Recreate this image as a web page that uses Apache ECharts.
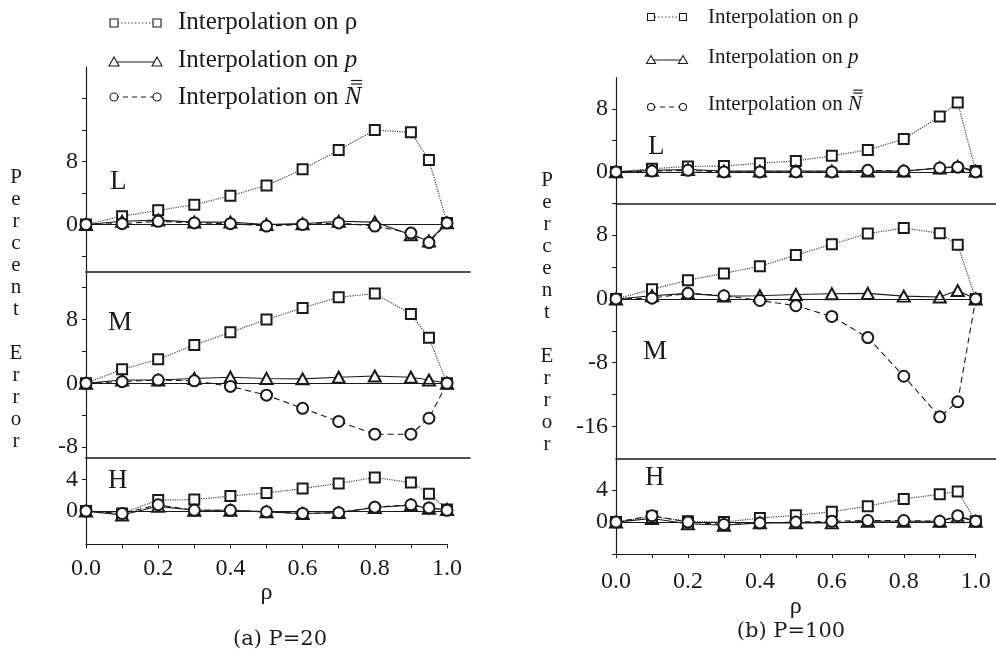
<!DOCTYPE html>
<html><head><meta charset="utf-8">
<script src="https://cdn.jsdelivr.net/npm/echarts@6/dist/echarts.min.js"></script>
<style>html,body{margin:0;padding:0;background:#fff}#c{width:996px;height:656px}</style>
</head><body><div id="c"></div>
<script>
// ---------- DATA ----------
const rho = [0, 0.1, 0.2, 0.3, 0.4, 0.5, 0.6, 0.7, 0.8, 0.9, 0.95, 1.0];
const seriesNames = ['Interpolation on ρ', 'Interpolation on p', 'Interpolation on N'];

// (a) P=20
const p20L_rho = [0, 1.05, 1.8, 2.5, 3.65, 4.95, 7.0, 9.45, 12.0, 11.7, 8.2, 0.2];
const p20L_p   = [0, 0.4, 0.55, 0.3, 0.3, 0.0, 0.1, 0.4, 0.3, -1.3, -2.1, 0.2];
const p20L_N   = [0, 0.1, 0.4, 0.2, 0.1, -0.2, 0.0, 0.2, -0.2, -1.1, -2.3, 0.2];
const p20M_rho = [0, 1.75, 3.0, 4.8, 6.4, 8.0, 9.45, 10.8, 11.25, 8.7, 5.7, 0];
const p20M_p   = [0, 0.4, 0.4, 0.6, 0.75, 0.6, 0.55, 0.75, 0.9, 0.75, 0.4, 0];
const p20M_N   = [0, 0.2, 0.4, 0.3, -0.4, -1.5, -3.15, -4.8, -6.4, -6.4, -4.4, 0];
const p20H_rho = [0, -0.3, 1.4, 1.45, 1.9, 2.3, 2.85, 3.5, 4.25, 3.6, 2.2, 0.2];
const p20H_p   = [0, -0.5, 0.6, 0.1, 0.1, -0.1, -0.3, -0.2, 0.45, 0.75, 0.35, 0.2];
const p20H_N   = [0, -0.3, 0.8, 0.1, 0.1, -0.1, -0.3, -0.2, 0.5, 0.8, 0.4, 0.1];

// (b) P=100
const p100L_rho = [0, 0.4, 0.7, 0.75, 1.1, 1.4, 2.05, 2.8, 4.2, 7.05, 8.85, 0.1];
const p100L_p   = [0, 0.2, 0.3, 0.1, 0.1, 0.1, 0.1, 0.1, 0.1, 0.5, 0.7, 0.1];
const p100L_N   = [0, 0.1, 0.2, 0, 0, 0, 0, 0.2, 0.1, 0.5, 0.6, 0];
const p100M_rho = [0, 1.2, 2.35, 3.2, 4.1, 5.5, 6.85, 8.2, 8.9, 8.25, 6.8, 0];
const p100M_p   = [0, 0.4, 0.7, 0.35, 0.4, 0.55, 0.65, 0.7, 0.35, 0.25, 1.05, 0];
const p100M_N   = [0, 0.1, 0.7, 0.4, -0.2, -0.85, -2.2, -4.85, -9.7, -14.8, -12.9, 0];
const p100H_rho = [0, 0.7, 0.1, 0, 0.5, 0.85, 1.3, 2.0, 2.9, 3.5, 3.85, 0.1];
const p100H_p   = [0, 0.45, -0.2, -0.4, -0.1, -0.1, -0.1, 0.1, 0.1, 0.1, 0.65, 0.1];
const p100H_N   = [0, 0.8, 0, -0.3, -0.1, 0, 0.1, 0.2, 0.2, 0.1, 0.8, 0.1];

// tick values / labels
const xTickVals  = [0, 0.1, 0.2, 0.3, 0.4, 0.5, 0.6, 0.7, 0.8, 0.9, 1.0];
const xLabelVals = [0, 0.2, 0.4, 0.6, 0.8, 1.0];
const p20L_ticks = [-4, 0, 4, 8, 12, 16], p20L_labels = [0, 8];
const p20M_ticks = [-8, -4, 0, 4, 8, 12], p20M_labels = [-8, 0, 8];
const p20H_ticks = [0, 4], p20H_labels = [0, 4];
const p100L_ticks = [-4, 0, 4, 8], p100L_labels = [0, 8];
const p100M_ticks = [-16, -12, -8, -4, 0, 4, 8], p100M_labels = [-16, -8, 0, 8];
const p100H_ticks = [-4, 0, 4], p100H_labels = [0, 4];
const panelLetters = ['L', 'M', 'H'];

// ---------- CHART ----------
const SERIF = '"Liberation Serif", "Times New Roman", serif';
const INK = '#1a1a1a';

const panels = [
  {grid:{left:86, top:67, width:384, height:204.7}, xmax:1.0637, ymin:-6, ymax:20, ticks:p20L_ticks, labels:p20L_labels, data:[p20L_rho,p20L_p,p20L_N], bottom:false},
  {grid:{left:86, top:271.7, width:384, height:185.6}, xmax:1.0637, ymin:-9.3, ymax:14, ticks:p20M_ticks, labels:p20M_labels, data:[p20M_rho,p20M_p,p20M_N], bottom:false},
  {grid:{left:86, top:457.3, width:361, height:87}, xmax:1, ymin:-4.2, ymax:6.8, ticks:p20H_ticks, labels:p20H_labels, data:[p20H_rho,p20H_p,p20H_N], bottom:true, nameGap:25, labelMargin:12},
  {grid:{left:616, top:77.7, width:380, height:125.6}, xmax:1.0564, ymin:-4, ymax:12, ticks:p100L_ticks, labels:p100L_labels, data:[p100L_rho,p100L_p,p100L_N], bottom:false},
  {grid:{left:616, top:203.3, width:380, height:255}, xmax:1.0564, ymin:-20, ymax:12, ticks:p100M_ticks, labels:p100M_labels, data:[p100M_rho,p100M_p,p100M_N], bottom:false},
  {grid:{left:616, top:458.3, width:359.7, height:95.7}, xmax:1, ymin:-4, ymax:8, ticks:p100H_ticks, labels:p100H_labels, data:[p100H_rho,p100H_p,p100H_N], bottom:true, nameGap:27, labelMargin:16}
];

const styles = [
  {symbol:'emptyRect', size:10, line:{type:'dotted', width:1.2, color:'#444'}},
  {symbol:'emptyTriangle', size:[12,11], line:{type:'solid', width:1.1, color:INK}},
  {symbol:'emptyCircle', size:11, line:{type:[6,4], width:1.1, color:INK}}
];

const grid = [], xAxis = [], yAxis = [], series = [];
panels.forEach((p, i) => {
  grid.push(Object.assign({outerBoundsMode:'none', containLabel:false}, p.grid));
  xAxis.push({
    type:'value', gridIndex:i, min:0, max:p.xmax,
    axisLine:{show:true, onZero:false, lineStyle:{color:INK, width:p.bottom?1.2:1.5}},
    axisTick: p.bottom ? {show:true, length:4, inside:false, customValues:xTickVals, lineStyle:{color:INK}} : {show:false},
    axisLabel: p.bottom ? {show:true, customValues:xLabelVals, formatter:v => v.toFixed(1), fontFamily:SERIF, fontSize:24, color:INK, margin:p.labelMargin} : {show:false},
    splitLine:{show:false},
    name: p.bottom ? 'ρ' : '', nameLocation:'middle', nameGap:p.nameGap || 0,
    nameTextStyle:{fontFamily:SERIF, fontSize:24, color:INK}
  });
  yAxis.push({
    type:'value', gridIndex:i, min:p.ymin, max:p.ymax,
    axisLine:{show:true, onZero:false, lineStyle:{color:INK, width:1.2}},
    axisTick:{show:true, length:4, customValues:p.ticks, lineStyle:{color:INK}},
    axisLabel:{show:true, customValues:p.labels, fontFamily:SERIF, fontSize:24, color:INK, margin:8},
    splitLine:{show:false}
  });
  p.data.forEach((vals, k) => {
    const st = styles[k];
    const s = {
      type:'line', name:seriesNames[k], xAxisIndex:i, yAxisIndex:i,
      data: rho.map((x, j) => [x, vals[j]]),
      symbol:st.symbol, symbolSize:st.size, showAllSymbol:true,
      lineStyle:st.line,
      itemStyle:{color:INK, borderColor:INK, borderWidth:1.2},
      z: 3 + k, animation:false, silent:true
    };
    if (k === 1) {
      s.markLine = {
        symbol:'none', silent:true, label:{show:false}, animation:false,
        lineStyle:{type:'solid', color:INK, width:1.2},
        data:[[{coord:[0, 0]}, {coord:[1, 0]}]]
      };
    }
    series.push(s);
  });
});

// ---------- decorations (legend, panel letters, axis title, captions) ----------
const graphic = [];
const mctx = document.createElement('canvas').getContext('2d');
function textW(t, fs, italic) {
  mctx.font = (italic ? 'italic ' : '') + fs + 'px ' + SERIF;
  return mctx.measureText(t).width;
}
function legendRow(x1, x2, yc, k, tx, ty, fs, msz) {
  const st = styles[k];
  graphic.push({type:'line', shape:{x1:x1, y1:yc, x2:x2, y2:yc},
    style:{stroke:st.line.color, lineWidth:1, lineDash: k===0 ? [1.5,2] : (k===2 ? [5,4] : null)}});
  [x1, x2].forEach(cx => {
    if (k === 0) graphic.push({type:'rect', shape:{x:cx-msz/2, y:yc-msz/2, width:msz, height:msz}, style:{fill:'#fff', stroke:INK, lineWidth:1.1}});
    else if (k === 1) graphic.push({type:'polygon', shape:{points:[[cx, yc-msz/2-1],[cx+msz/2+1, yc+msz/2],[cx-msz/2-1, yc+msz/2]]}, style:{fill:'#fff', stroke:INK, lineWidth:1.1}});
    else graphic.push({type:'circle', shape:{cx:cx, cy:yc, r:msz/2}, style:{fill:'#fff', stroke:INK, lineWidth:1.1}});
  });
  const texts = ['Interpolation on ρ', 'Interpolation on {i|p}', 'Interpolation on {i|N}'];
  graphic.push({type:'text', x:tx, y:ty, style:{text:texts[k], fontFamily:SERIF, fontSize:fs, fill:INK,
    verticalAlign:'middle', align:'left',
    rich:{i:{fontFamily:SERIF, fontSize:fs, fontStyle:'italic', fill:INK}}}});
  if (k === 2) {
    // double overline over the italic N
    const nx = tx + textW('Interpolation on ', fs, false);
    const nw = textW('N', fs, true);
    const capTop = ty - 0.33 * fs;
    [capTop - 0.33 * fs, capTop - 0.19 * fs].forEach(by => {
      graphic.push({type:'line', shape:{x1:nx + 0.38 * nw, y1:by, x2:nx + 1.05 * nw, y2:by}, style:{stroke:INK, lineWidth:1.2}});
    });
  }
}
// left legend
legendRow(114, 157, 23, 0, 178, 22, 25, 8);
legendRow(114, 157, 62, 1, 178, 60, 25, 8);
legendRow(114, 157, 97, 2, 178, 97, 25, 8);
// right legend
legendRow(651, 683, 17, 0, 708, 17, 21, 7);
legendRow(651, 683, 60, 1, 708, 57, 21, 7);
legendRow(651, 683, 107, 2, 708, 104, 21, 7);

// panel letters
[[110, 182], [108, 323], [108, 481], [648, 147], [643, 352], [645, 478]].forEach((pos, i) => {
  graphic.push({type:'text', x:pos[0], y:pos[1], style:{text:panelLetters[i % 3], fontFamily:SERIF, fontSize:27, fill:INK, verticalAlign:'middle', align:'left'}});
});
// y axis title (vertical letters)
const yTitle = 'Percent Error'.split('').map(c => c === ' ' ? '' : c).join('\n');
[[16, 166], [547, 169]].forEach(pos => {
  graphic.push({type:'text', x:pos[0], y:pos[1], style:{text:yTitle, fontFamily:SERIF, fontSize:21, lineHeight:22, fill:INK, align:'center', verticalAlign:'top'}});
});
// captions
graphic.push({type:'text', x:280, y:640, style:{text:'(a) P=20', fontFamily:'"DejaVu Serif", serif', fontSize:21, fill:INK, align:'center', verticalAlign:'middle'}});
graphic.push({type:'text', x:791, y:632, style:{text:'(b) P=100', fontFamily:'"DejaVu Serif", serif', fontSize:21, fill:INK, align:'center', verticalAlign:'middle'}});

const chart = echarts.init(document.getElementById('c'), null, {renderer:'canvas'});
chart.setOption({
  backgroundColor:'#fff',
  animation:false,
  grid, xAxis, yAxis, series, graphic
});
</script>
</body></html>
